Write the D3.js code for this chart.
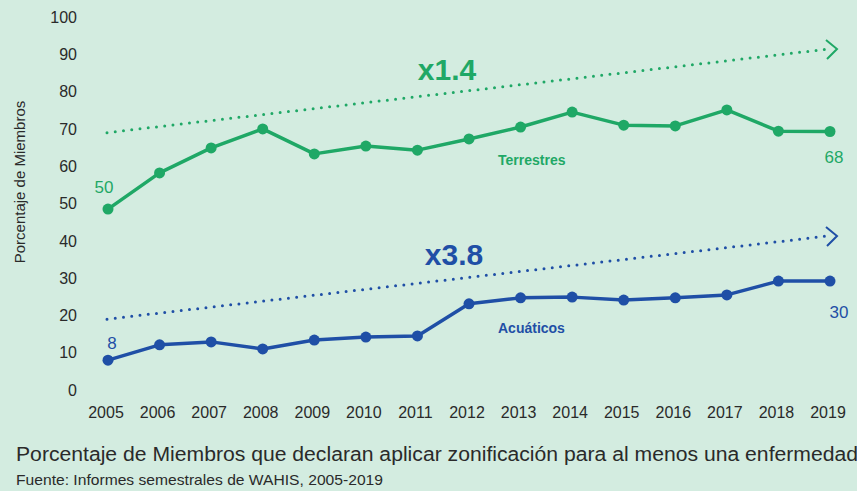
<!DOCTYPE html>
<html lang="es">
<head>
<meta charset="UTF-8">
<title>Zonificación</title>
<script src="https://d3js.org/d3.v7.min.js"></script>
<style>
  body { margin: 0; background: #d3ece0; }
  svg { display: block; font-family: "Liberation Sans", Arial, sans-serif; }
</style>
</head>
<body>
<svg width="857" height="491"></svg>
<script>
// data
const years = [2005, 2006, 2007, 2008, 2009, 2010, 2011, 2012, 2013, 2014, 2015, 2016, 2017, 2018, 2019];
const terrestres = [48.5, 58.2, 64.9, 70.0, 63.3, 65.4, 64.3, 67.3, 70.5, 74.5, 71.0, 70.8, 75.1, 69.4, 69.3];
const acuaticos = [8.0, 12.1, 12.9, 11.0, 13.4, 14.2, 14.5, 23.1, 24.7, 24.9, 24.1, 24.7, 25.5, 29.2, 29.2];
const yTicks = [0, 10, 20, 30, 40, 50, 60, 70, 80, 90, 100];
const trendTerr = [69, 91.4];
const trendAcua = [19, 41.3];

const green = "#1fa866";
const blue = "#1f4fa6";
const ink = "#2a2a2a";

const svg = d3.select("svg");

const x = d3.scaleLinear().domain([2005, 2019]).range([108, 830]);
const y = d3.scaleLinear().domain([0, 100]).range([390, 17]);

// y tick labels
svg.append("g")
  .selectAll("text")
  .data(yTicks)
  .join("text")
  .attr("x", 77)
  .attr("y", d => y(d))
  .attr("dy", "0.36em")
  .attr("text-anchor", "end")
  .attr("font-size", 16)
  .attr("fill", ink)
  .text(d => d);

// x tick labels
svg.append("g")
  .selectAll("text")
  .data(years)
  .join("text")
  .attr("x", d => x(d) - 2)
  .attr("y", 418)
  .attr("text-anchor", "middle")
  .attr("font-size", 16)
  .attr("fill", ink)
  .text(d => d);

svg.append("text")
  .attr("transform", "translate(25,182) rotate(-90)")
  .attr("text-anchor", "middle")
  .attr("font-size", 15)
  .attr("fill", ink)
  .text("Porcentaje de Miembros");

// dotted trend lines with chevron
function trend(vals, color) {
  const x0 = x(2005) - 1, x1 = 828;
  const y0 = y(vals[0]), y1 = y(vals[1]);
  svg.append("line")
    .attr("x1", x0).attr("y1", y0)
    .attr("x2", x1).attr("y2", y1)
    .attr("stroke", color)
    .attr("stroke-width", 3)
    .attr("stroke-linecap", "round")
    .attr("stroke-dasharray", "0 8.3");
  const tx = 837, ty = y1;
  svg.append("path")
    .attr("d", `M${tx - 11},${ty - 9}L${tx},${ty}L${tx - 10},${ty + 10}`)
    .attr("fill", "none")
    .attr("stroke", color)
    .attr("stroke-width", 2);
}
trend(trendTerr, green);
trend(trendAcua, blue);

const line = d3.line().x((d, i) => x(years[i])).y(d => y(d));

function series(vals, color) {
  svg.append("path")
    .datum(vals)
    .attr("d", line)
    .attr("fill", "none")
    .attr("stroke", color)
    .attr("stroke-width", 3.5)
    .attr("stroke-linejoin", "round");
  svg.append("g")
    .selectAll("circle")
    .data(vals)
    .join("circle")
    .attr("cx", (d, i) => x(years[i]))
    .attr("cy", d => y(d))
    .attr("r", 5.5)
    .attr("fill", color);
}
series(terrestres, green);
series(acuaticos, blue);

// annotations
function label(txt, px, py, color, size, weight, anchor) {
  svg.append("text")
    .attr("x", px).attr("y", py)
    .attr("text-anchor", anchor || "middle")
    .attr("font-size", size)
    .attr("font-weight", weight || "normal")
    .attr("fill", color)
    .text(txt);
}
label("x1.4", 447, 80, green, 30, "bold");
label("x3.8", 454, 265, blue, 30, "bold");
label("Terrestres", 498, 165, green, 14, "bold", "start");
label("Acuáticos", 498, 333, blue, 14, "bold", "start");
label("50", 104, 193, green, 17);
label("8", 112, 349, blue, 17);
label("68", 834, 163, green, 17);
label("30", 839, 318, blue, 17);

// caption
svg.append("text")
  .attr("x", 16).attr("y", 461)
  .attr("font-size", 20)
  .attr("fill", ink)
  .attr("textLength", 842)
  .attr("lengthAdjust", "spacingAndGlyphs")
  .text("Porcentaje de Miembros que declaran aplicar zonificación para al menos una enfermedad");

svg.append("text")
  .attr("x", 16).attr("y", 485)
  .attr("font-size", 15)
  .attr("fill", ink)
  .attr("textLength", 367)
  .attr("lengthAdjust", "spacingAndGlyphs")
  .text("Fuente: Informes semestrales de WAHIS, 2005-2019");
</script>
</body>
</html>
